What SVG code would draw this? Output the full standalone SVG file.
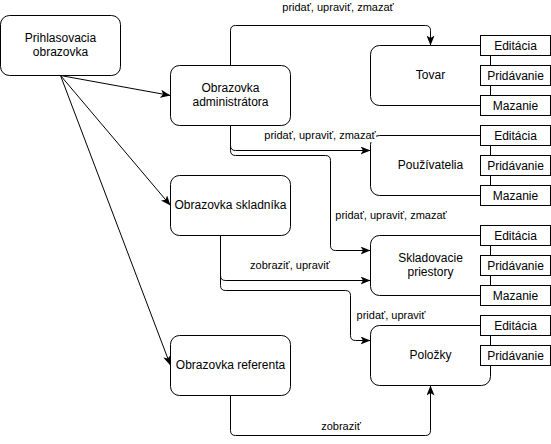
<svg xmlns="http://www.w3.org/2000/svg" width="551" height="444" viewBox="0 0 551 444">
<style>
.n{fill:#fff;stroke:#000;stroke-width:1}
.t{font-family:"Liberation Sans",Arial,sans-serif;font-size:12px;fill:#000;text-anchor:middle}
.l{font-family:"Liberation Sans",Arial,sans-serif;font-size:11px;fill:#000;text-anchor:middle}
.e{fill:none;stroke:#000;stroke-width:1}
</style>
<defs>
<marker id="a" markerUnits="userSpaceOnUse" markerWidth="10" markerHeight="8" refX="10" refY="4" orient="auto">
<path d="M0,0 L10,4 L0,8 L2.5,4 Z" fill="#000"/>
</marker>
</defs>
<rect width="551" height="444" fill="#fff"/>
<g id="prihlasovacia">
<rect class="n" x="0.5" y="15.5" width="120" height="60" rx="9"/>
<text class="t" x="60.5" y="42">Prihlasovacia</text>
<text class="t" x="60.5" y="56">obrazovka</text>
</g>
<g id="administrator">
<rect class="n" x="170.5" y="65.5" width="120" height="60" rx="9"/>
<text class="t" x="230.5" y="92">Obrazovka</text>
<text class="t" x="230.5" y="106">administrátora</text>
</g>
<g id="skladnik">
<rect class="n" x="170.5" y="175.5" width="120" height="60" rx="9"/>
<text class="t" x="230.5" y="209">Obrazovka skladníka</text>
</g>
<g id="referent">
<rect class="n" x="170.5" y="335.5" width="120" height="60" rx="9"/>
<text class="t" x="230.5" y="369">Obrazovka referenta</text>
</g>
<g id="tovar">
<rect class="n" x="370.5" y="45.5" width="120" height="60" rx="9"/>
<text class="t" x="430.5" y="79">Tovar</text>
</g>
<g id="tovar-editacia"><rect class="n" x="480.5" y="35.5" width="70" height="20"/><text class="t" x="515.5" y="50">Editácia</text></g>
<g id="tovar-pridavanie"><rect class="n" x="480.5" y="65.5" width="70" height="20"/><text class="t" x="515.5" y="80">Pridávanie</text></g>
<g id="tovar-mazanie"><rect class="n" x="480.5" y="95.5" width="70" height="20"/><text class="t" x="515.5" y="110">Mazanie</text></g>
<g id="pouzivatelia">
<rect class="n" x="370.5" y="135.5" width="120" height="60" rx="9"/>
<text class="t" x="430.5" y="169">Používatelia</text>
</g>
<g id="pouz-editacia"><rect class="n" x="480.5" y="125.5" width="70" height="20"/><text class="t" x="515.5" y="140">Editácia</text></g>
<g id="pouz-pridavanie"><rect class="n" x="480.5" y="155.5" width="70" height="20"/><text class="t" x="515.5" y="170">Pridávanie</text></g>
<g id="pouz-mazanie"><rect class="n" x="480.5" y="185.5" width="70" height="20"/><text class="t" x="515.5" y="200">Mazanie</text></g>
<g id="skladovacie">
<rect class="n" x="370.5" y="235.5" width="120" height="60" rx="9"/>
<text class="t" x="430.5" y="262">Skladovacie</text>
<text class="t" x="430.5" y="276">priestory</text>
</g>
<g id="skl-editacia"><rect class="n" x="480.5" y="225.5" width="70" height="20"/><text class="t" x="515.5" y="240">Editácia</text></g>
<g id="skl-pridavanie"><rect class="n" x="480.5" y="255.5" width="70" height="20"/><text class="t" x="515.5" y="270">Pridávanie</text></g>
<g id="skl-mazanie"><rect class="n" x="480.5" y="285.5" width="70" height="20"/><text class="t" x="515.5" y="300">Mazanie</text></g>
<g id="polozky">
<rect class="n" x="370.5" y="325.5" width="120" height="60" rx="9"/>
<text class="t" x="430.5" y="359">Položky</text>
</g>
<g id="pol-editacia"><rect class="n" x="480.5" y="315.5" width="70" height="20"/><text class="t" x="515.5" y="330">Editácia</text></g>
<g id="pol-pridavanie"><rect class="n" x="480.5" y="345.5" width="70" height="20"/><text class="t" x="515.5" y="360">Pridávanie</text></g>
<g id="connectors">
<path class="e" d="M60.5,75.5 L170.5,95.5" marker-end="url(#a)"/>
<path class="e" d="M60.5,75.5 L170.5,205.5" marker-end="url(#a)"/>
<path class="e" d="M60.5,75.5 L170.5,365.5" marker-end="url(#a)"/>
<path class="e" d="M230.5,65.5 V30.5 Q230.5,25.5 235.5,25.5 H425.5 Q430.5,25.5 430.5,30.5 V45.5" marker-end="url(#a)"/>
<text class="l" x="338" y="11">pridať, upraviť, zmazať</text>
<path class="e" d="M230.5,125.5 V145.5 Q230.5,150.5 235.5,150.5 H370.5" marker-end="url(#a)"/>
<rect x="263" y="129" width="113" height="13" fill="#fff"/>
<text class="l" x="320" y="139">pridať, upraviť, zmazať</text>
<path class="e" d="M230.5,125.5 V150.5 Q230.5,155.5 235.5,155.5 H325.5 Q330.5,155.5 330.5,160.5 V245.5 Q330.5,250.5 335.5,250.5 H370.5" marker-end="url(#a)"/>
<text class="l" x="391" y="219">pridať, upraviť, zmazať</text>
<path class="e" d="M220.5,235.5 V275.5 Q220.5,280.5 225.5,280.5 H370.5" marker-end="url(#a)"/>
<text class="l" x="290" y="269">zobraziť, upraviť</text>
<path class="e" d="M220.5,235.5 V285.5 Q220.5,290.5 225.5,290.5 H345.5 Q350.5,290.5 350.5,295.5 V335.5 Q350.5,340.5 355.5,340.5 H370.5" marker-end="url(#a)"/>
<text class="l" x="391" y="319">pridať, upraviť</text>
<path class="e" d="M230.5,395.5 V430.5 Q230.5,435.5 235.5,435.5 H425.5 Q430.5,435.5 430.5,430.5 V385.5" marker-end="url(#a)"/>
<text class="l" x="341" y="430">zobraziť</text>
</g>
</svg>
